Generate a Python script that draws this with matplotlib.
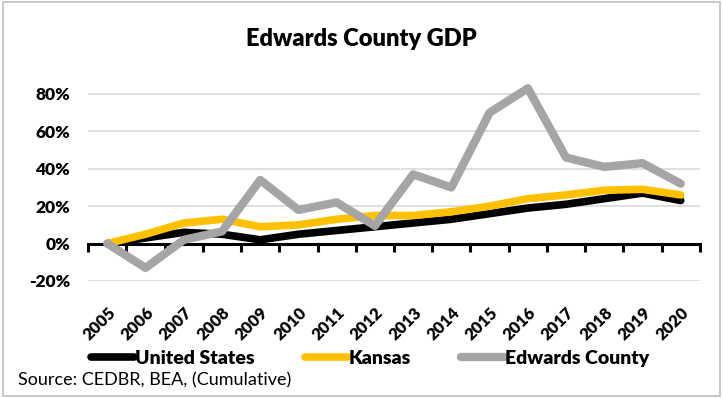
"""Edwards County GDP: crecimiento acumulado frente a Kansas y EE. UU."""
import matplotlib
matplotlib.use("Agg")
import matplotlib.pyplot as plt
from matplotlib.patches import Rectangle
from matplotlib.ticker import FuncFormatter

years = [str(y) for y in range(2005, 2021)]
united_states = [0, 3, 6, 5, 2, 5, 7, 9, 11, 13, 16, 19, 21, 24, 27, 23]
kansas = [0, 5, 11, 13, 9, 10, 13, 15, 15, 17, 20, 24, 26, 28.5, 29, 26]
edwards = [0, -13, 2, 6.5, 34, 18, 22, 9.5, 37, 30, 70, 83, 46, 41, 43, 32]

plt.rcParams["font.family"] = ["Lato", "DejaVu Sans"]

fig = plt.figure(figsize=(7.23, 3.98), dpi=100)
ax = fig.add_axes([0.122, 0.294, 0.846, 0.517])
fig.patches.append(Rectangle((0.004, 0.004), 0.992, 0.992, transform=fig.transFigure,
                             fill=False, edgecolor="#BFBFBF", linewidth=1.2))

x = list(range(len(years)))
ax.plot(x, united_states, color="black", lw=5.5, solid_capstyle="round", label="United States", zorder=3)
ax.plot(x, kansas, color="#FFC000", lw=5.5, solid_capstyle="round", label="Kansas", zorder=4)
ax.plot(x, edwards, color="#A5A5A5", lw=6, solid_capstyle="round", label="Edwards County", zorder=5)

ax.set_xlim(-0.5, len(years) - 0.5)
ax.set_ylim(-20, 90)
ax.set_yticks([-20, 0, 20, 40, 60, 80])
ax.yaxis.set_major_formatter(FuncFormatter(lambda v, _: f"{v:.0f}%".replace("\u2212", "-")))
ax.tick_params(axis="y", length=0, labelsize=12.5, pad=13)
for lbl in ax.get_yticklabels():
    lbl.set_fontweight("heavy")
ax.grid(axis="y", color="#D9D9D9", lw=1.2)
ax.set_axisbelow(True)

for s in ["top", "right", "left"]:
    ax.spines[s].set_visible(False)
ax.spines["bottom"].set_position(("data", 0))
ax.spines["bottom"].set_linewidth(2.2)
ax.spines["bottom"].set_zorder(2)
ax.set_xticks([i - 0.5 for i in range(len(years) + 1)])
ax.tick_params(axis="x", length=6, width=2.2, direction="out", labelbottom=False)

sec = ax.secondary_xaxis(0)
sec.set_xticks(x, years)
sec.tick_params(length=0, labelsize=12, pad=17)
sec.spines["bottom"].set_visible(False)
for lbl in sec.get_xticklabels():
    lbl.set_rotation(45)
    lbl.set_ha("right")
    lbl.set_va("top")
    lbl.set_rotation_mode("anchor")
    lbl.set_fontweight("heavy")

fig.suptitle("Edwards County GDP", x=0.5, y=0.93, fontsize=17, fontweight="heavy")
fig.legend(loc="center", bbox_to_anchor=(0.512, 0.1), ncol=3, frameon=False,
           prop={"size": 14, "weight": "heavy"}, handlelength=2.2, handletextpad=0.05,
           columnspacing=2.6)
fig.text(0.025, 0.045, "Source: CEDBR, BEA, (Cumulative)", fontsize=13, va="center")

fig.savefig("out.png", dpi=100)
plt.close(fig)
